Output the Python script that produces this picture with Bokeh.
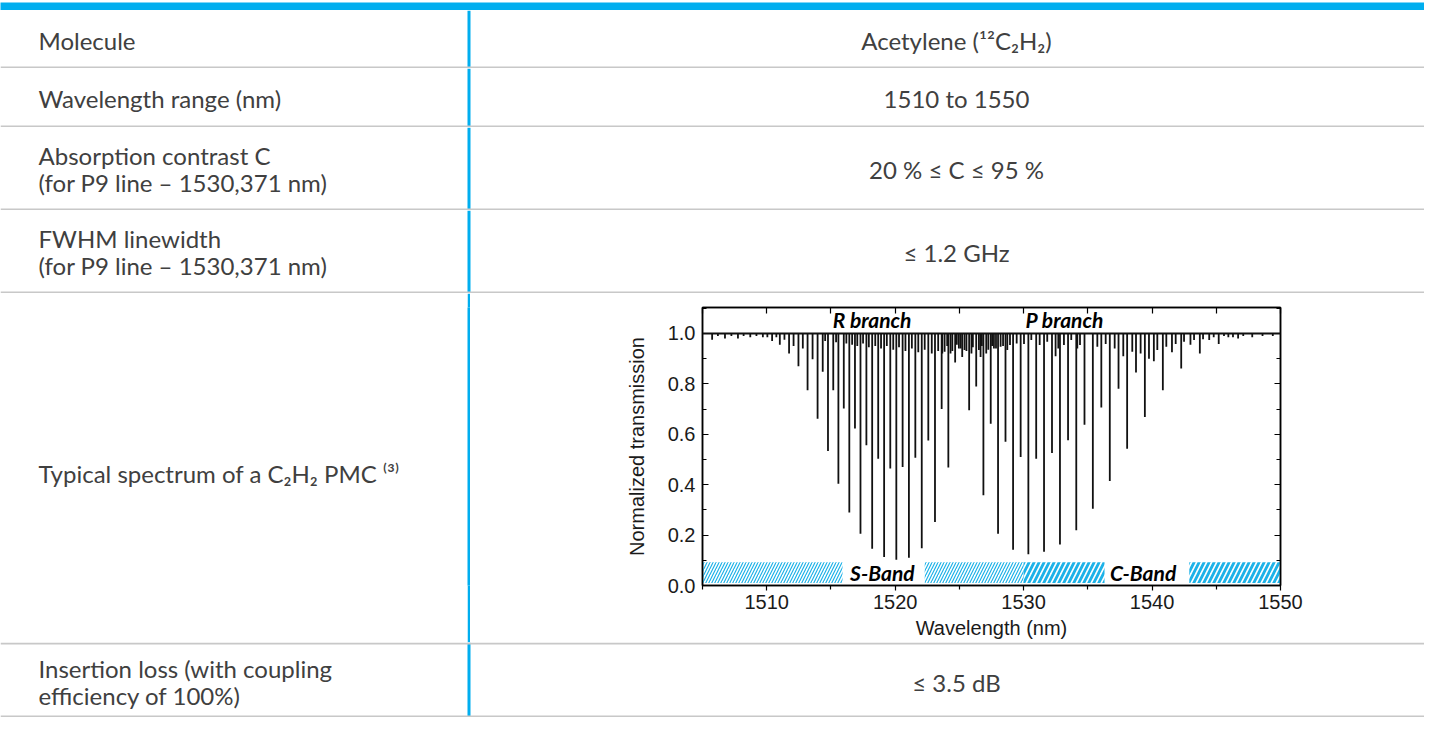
from bokeh.plotting import figure
from bokeh.layouts import column, row
from bokeh.models import Range1d, Span, LinearAxis, FixedTicker, NumeralTickFormatter, ColumnDataSource
from bokeh.core.properties import value
from bokeh.embed import file_html
from bokeh.resources import INLINE

# ---------------- table content ----------------
row_labels = [
    ["Molecule"],
    ["Wavelength range (nm)"],
    ["Absorption contrast C", "(for P9 line – 1530,371 nm)"],
    ["FWHM linewidth", "(for P9 line – 1530,371 nm)"],
    ["Typical spectrum of a C₂H₂ PMC ⁽³⁾"],
    ["Insertion loss (with coupling", "efficiency of 100%)"],
]
row_values = ["Acetylene (¹²C₂H₂)", "1510 to 1550", "20 % ≤ C ≤ 95 %", "≤ 1.2 GHz", "", "≤ 3.5 dB"]

# ---------------- spectrum data ----------------
# R branch lines: wavelength (nm) and transmission at line centre
r_wl = [1505.75, 1506.75, 1507.76, 1508.72, 1509.70, 1510.42, 1511.02, 1511.38, 1511.74, 1512.09,
        1512.47, 1512.81, 1513.18, 1513.57, 1513.96, 1514.36, 1514.77, 1515.18, 1515.58, 1516.00,
        1516.43, 1516.87, 1517.30, 1517.76, 1518.21, 1518.68, 1519.14, 1519.62, 1520.09, 1520.58,
        1521.07, 1521.57, 1522.07, 1522.58, 1523.10, 1523.62, 1524.14, 1524.67]
r_T = [0.975, 0.980, 0.980, 0.985, 0.985, 0.970, 0.955, 0.975, 0.920, 0.950,
       0.870, 0.940, 0.775, 0.898, 0.662, 0.848, 0.534, 0.775, 0.404, 0.702,
       0.290, 0.623, 0.205, 0.556, 0.146, 0.503, 0.113, 0.464, 0.102, 0.470,
       0.110, 0.507, 0.148, 0.575, 0.252, 0.700, 0.468, 0.885]
# P branch lines
p_wl = [1525.76, 1526.31, 1526.87, 1527.44, 1528.01, 1528.59, 1529.18, 1529.77, 1530.37, 1530.98,
        1531.59, 1532.21, 1532.83, 1533.46, 1534.10, 1534.74, 1535.39, 1536.05, 1536.71, 1537.39,
        1538.06, 1538.75, 1539.44, 1540.14, 1540.84, 1541.55, 1542.27, 1542.99, 1543.72, 1544.45,
        1545.19, 1545.94, 1546.70]
p_T = [0.695, 0.790, 0.358, 0.642, 0.205, 0.570, 0.142, 0.510, 0.124, 0.503,
       0.134, 0.526, 0.163, 0.576, 0.219, 0.638, 0.305, 0.706, 0.415, 0.781,
       0.543, 0.845, 0.669, 0.890, 0.775, 0.925, 0.861, 0.955, 0.920, 0.974,
       0.958, 0.985, 0.980]
# weak (hot-band) lines
w_wl = [1506.20, 1507.25, 1508.20, 1509.20, 1510.05, 1510.75, 1514.55, 1515.40, 1516.20, 1516.65,
        1517.05, 1517.50, 1517.95, 1518.45, 1518.90, 1519.35, 1519.85, 1520.30, 1520.80, 1521.30,
        1521.80, 1522.30, 1522.85, 1523.35, 1523.67, 1523.85, 1524.05, 1524.31, 1524.45, 1524.80,
        1524.96, 1525.10, 1525.22, 1525.40, 1525.55, 1525.94, 1526.05, 1526.52, 1526.65, 1526.75,
        1527.09, 1527.25, 1527.55, 1527.69, 1527.85, 1528.21, 1528.40, 1528.73, 1528.94, 1529.46,
        1530.03, 1530.60, 1531.25, 1531.84, 1532.49, 1532.70, 1533.14, 1533.71, 1534.18, 1534.39,
        1535.74, 1536.39, 1537.09, 1537.76, 1538.46, 1539.11, 1539.76, 1540.41, 1541.11, 1541.84,
        1542.49, 1543.27, 1543.97, 1544.80, 1545.60, 1546.30, 1547.10, 1547.80, 1548.60, 1549.40]
w_T = [0.990, 0.990, 0.990, 0.990, 0.985, 0.985, 0.970, 0.965, 0.960, 0.955,
       0.950, 0.960, 0.945, 0.950, 0.940, 0.950, 0.935, 0.945, 0.930, 0.940,
       0.925, 0.935, 0.920, 0.930, 0.920, 0.927, 0.950, 0.920, 0.930, 0.955,
       0.940, 0.940, 0.907, 0.934, 0.930, 0.920, 0.945, 0.934, 0.907, 0.950,
       0.920, 0.935, 0.950, 0.940, 0.940, 0.947, 0.950, 0.934, 0.954, 0.960,
       0.958, 0.974, 0.954, 0.967, 0.910, 0.940, 0.954, 0.974, 0.940, 0.954,
       0.947, 0.958, 0.940, 0.910, 0.927, 0.920, 0.900, 0.934, 0.947, 0.958,
       0.967, 0.974, 0.977, 0.985, 0.990, 0.985, 0.990, 0.985, 0.990, 0.990]
baseline_T = 1.0

# telecom bands (hatched), split around their labels
s_band_left = [1505.0, 1522.3]
s_band_right = [1515.9, 1530.0]
c_band_left = [1530.0, 1542.9]
c_band_right = [1536.3, 1550.0]
band_bottom = 0.01
band_top = 0.092

band_labels = ["S-Band", "C-Band"]
band_label_x = [1519.0, 1539.3]
branch_labels = ["R branch", "P branch"]
branch_label_x = [1518.2, 1533.2]

x_ticks = [1510, 1520, 1530, 1540, 1550]
x_minor = [1505, 1515, 1525, 1535, 1545]
x_top_ticks = [1505, 1510, 1515, 1520, 1525, 1530, 1535, 1540, 1545, 1550]
y_ticks = [0.0, 0.2, 0.4, 0.6, 0.8, 1.0]
y_minor = [0.1, 0.3, 0.5, 0.7, 0.9, 1.1]

# ---------------- styles ----------------
W = 1424
BLUE = "#00AEEF"
RULE = "#C8C8C8"
TXT = "#404040"
FONT = "Lato"
FS = "24px"
DIV_L = 467          # divider occupies x 467..470
DIV_W = 3
LEFT_X = 38
RIGHT_CX = 956
row_heights = [58, 59, 83, 83, 349, 75]
text_centres = [30, 30, 41.5, 41.5, 180, 39.5]
line_offsets = {1: [0], 2: [-13.5, 13.5]}
CH = row_heights[4]
CH_TOP, CH_FRAME = 14, 278          # chart frame offset / height inside chart row


def cell_fig(w, h, y_range=None):
    p = figure(width=w, height=h, x_range=Range1d(0, w),
               y_range=y_range if y_range is not None else Range1d(h, 0),
               toolbar_location=None, output_backend="svg", min_border=0,
               x_axis_location=None, y_axis_location=None, outline_line_color=None)
    p.grid.visible = False
    p.background_fill_color = "white"
    p.border_fill_color = "white"
    return p


# header bar
bar = cell_fig(W, 10)
bar.background_fill_color = BLUE
bar.border_fill_color = BLUE

figs = [bar]
for i, (labels, val, h) in enumerate(zip(row_labels, row_values, row_heights)):
    if i == 4:
        # frame of this cell is aligned with the chart frame by the row layout
        p = cell_fig(DIV_L, h, y_range=Range1d(CH_TOP + CH_FRAME, CH_TOP))
    else:
        p = cell_fig(W, h)
    yc = text_centres[i]
    offs = line_offsets[len(labels)]
    p.text(x=[LEFT_X] * len(labels), y=[yc + o for o in offs], text=labels,
           text_font=value(FONT), text_font_size=FS, text_color=TXT,
           text_align="left", text_baseline="middle")
    if val:
        p.text(x=[RIGHT_CX], y=[yc], text=[val], text_font=value(FONT), text_font_size=FS,
               text_color=TXT, text_align="center", text_baseline="middle")
    if i != 4:
        p.add_layout(Span(location=DIV_L + DIV_W / 2, dimension="height", line_color=BLUE,
                          line_width=DIV_W))
        p.add_layout(Span(location=h - 1, dimension="width", line_color=RULE, line_width=2))
    if i == 5:
        p.add_layout(Span(location=1, dimension="width", line_color=RULE, line_width=2))
    figs.append(p)

# divider piece for the chart row (whole figure painted blue)
div = cell_fig(DIV_W, CH)
div.background_fill_color = BLUE
div.border_fill_color = BLUE

# ---------------- spectrum chart ----------------
AX_FONT = "Liberation Sans"
CW = W - DIV_L - DIV_W
c = figure(width=CW, height=CH, x_range=Range1d(1505, 1550), y_range=Range1d(0, 1.103),
           toolbar_location=None, output_backend="svg",
           min_border_left=702 - DIV_L - DIV_W, min_border_right=W - 1280,
           min_border_top=CH_TOP, min_border_bottom=CH - CH_TOP - CH_FRAME,
           x_axis_label="Wavelength (nm)", y_axis_label="Normalized transmission")
c.grid.visible = False
c.outline_line_color = "black"
c.outline_line_width = 1.5
c.background_fill_color = "white"
c.border_fill_color = "white"

c.xaxis.ticker = FixedTicker(ticks=x_ticks, minor_ticks=x_minor)
c.yaxis.ticker = FixedTicker(ticks=y_ticks, minor_ticks=y_minor)
c.yaxis.formatter = NumeralTickFormatter(format="0.0")
c.xaxis.formatter = NumeralTickFormatter(format="0")
for ax in (c.xaxis, c.yaxis):
    ax.axis_line_color = "black"
    ax.axis_line_width = 1.5
    ax.major_tick_line_color = "black"
    ax.minor_tick_line_color = "black"
    ax.major_tick_line_width = 1.2
    ax.minor_tick_line_width = 1.2
    ax.major_label_text_font = AX_FONT
    ax.major_label_text_font_size = "20px"
    ax.major_label_text_color = "#1a1a1a"
    ax.axis_label_text_font = AX_FONT
    ax.axis_label_text_font_size = "20px"
    ax.axis_label_text_font_style = "normal"
    ax.axis_label_text_color = "#1a1a1a"
c.xaxis.major_tick_out = 5
c.xaxis.major_tick_in = 0
c.xaxis.minor_tick_out = 4
c.xaxis.minor_tick_in = 0
c.xaxis.major_label_standoff = 4
c.xaxis.axis_label_standoff = 5
c.yaxis.major_tick_out = 0
c.yaxis.major_tick_in = 6
c.yaxis.minor_tick_out = 0
c.yaxis.minor_tick_in = 4
c.yaxis.major_label_standoff = 7
c.yaxis.axis_label_standoff = 17

right_ax = LinearAxis(ticker=FixedTicker(ticks=y_ticks, minor_ticks=y_minor),
                      major_label_overrides={t: "" for t in y_ticks},
                      major_tick_in=6, major_tick_out=0, minor_tick_in=4, minor_tick_out=0,
                      major_label_standoff=0, axis_line_width=1.5, major_tick_line_width=1.2,
                      minor_tick_line_width=1.2)
top_ax = LinearAxis(ticker=FixedTicker(ticks=x_top_ticks, minor_ticks=[]),
                    major_label_overrides={t: "" for t in x_top_ticks},
                    major_tick_in=6, major_tick_out=0, minor_tick_in=0, minor_tick_out=0,
                    major_label_standoff=0, axis_line_width=1.5, major_tick_line_width=1.2)
c.add_layout(right_ax, "right")
c.add_layout(top_ax, "above")

# hatched bands
HATCH = "#1DB2E8"
c.quad(left=s_band_left, right=s_band_right, bottom=band_bottom, top=band_top,
       fill_alpha=0, line_color=None, hatch_pattern="/", hatch_color=HATCH,
       hatch_scale=6, hatch_weight=1.2)
c.quad(left=c_band_left, right=c_band_right, bottom=band_bottom, top=band_top,
       fill_alpha=0, line_color=None, hatch_pattern="/", hatch_color=HATCH,
       hatch_scale=10, hatch_weight=2.8)

# spectrum: baseline plus absorption lines
c.add_layout(Span(location=baseline_T, dimension="width", line_color="#111111", line_width=2))
for wl, tr in ((r_wl, r_T), (p_wl, p_T), (w_wl, w_T)):
    src = ColumnDataSource(dict(x=wl, t=tr, b=[baseline_T] * len(wl)))
    c.segment(x0="x", y0="b", x1="x", y1="t", source=src, line_color="#111111", line_width=1.8)

# labels
c.text(x=branch_label_x, y=[1.055, 1.055], text=branch_labels, text_font=value(FONT),
       text_font_style="bold italic", text_font_size="21px", text_color="black",
       text_align="center", text_baseline="middle")
c.text(x=band_label_x, y=[0.052, 0.052], text=band_labels, text_font=value(FONT),
       text_font_style="bold italic", text_font_size="21px", text_color="black",
       text_align="center", text_baseline="middle")

chart_row = row(figs[5], div, c, spacing=0)
layout = column(figs[0], figs[1], figs[2], figs[3], figs[4], chart_row, figs[6], spacing=0)

open("out.html", "w").write(file_html(layout, INLINE))
